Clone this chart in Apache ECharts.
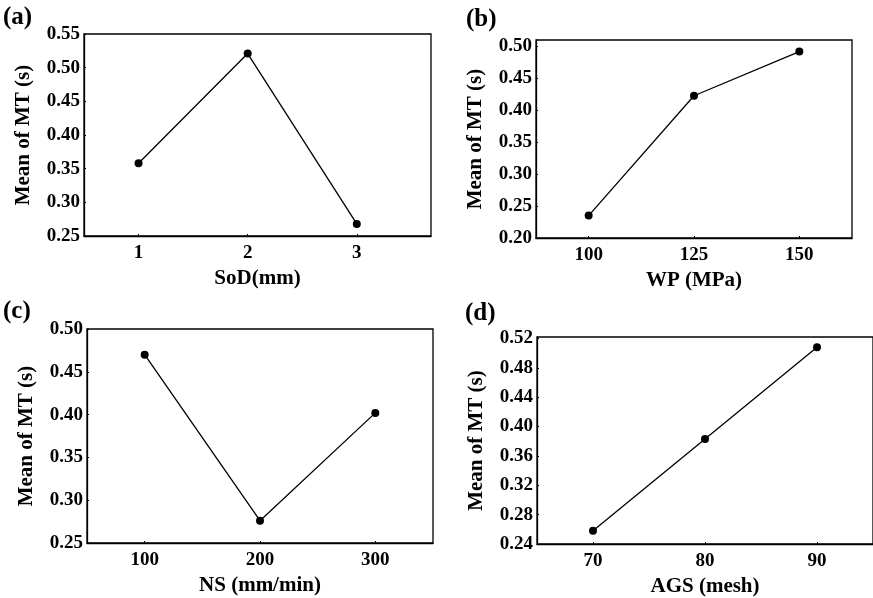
<!DOCTYPE html>
<html>
<head>
<meta charset="utf-8">
<script src="https://cdn.jsdelivr.net/npm/echarts@6/dist/echarts.min.js"></script>
<style>
  html, body { margin: 0; padding: 0; background: #fff; }
  #main { width: 873px; height: 598px; }
</style>
</head>
<body>
<div id="main"></div>
<script>
// main effect values
var sodX = [1, 2, 3];
var sodY = [0.358, 0.521, 0.268];
var wpX = [100, 125, 150];
var wpY = [0.235, 0.422, 0.491];
var nsX = [100, 200, 300];
var nsY = [0.470, 0.276, 0.402];
var agsX = [70, 80, 90];
var agsY = [0.258, 0.383, 0.508];

// tick values
var yTicksA = [0.25, 0.30, 0.35, 0.40, 0.45, 0.50, 0.55];
var yTicksB = [0.20, 0.25, 0.30, 0.35, 0.40, 0.45, 0.50];
var yTicksC = [0.25, 0.30, 0.35, 0.40, 0.45, 0.50];
var yTicksD = [0.24, 0.28, 0.32, 0.36, 0.40, 0.44, 0.48, 0.52];

var panelLabels = ['(a)', '(b)', '(c)', '(d)'];
var xNames = ['SoD(mm)', 'WP (MPa)', 'NS (mm/min)', 'AGS (mesh)'];
var yName = 'Mean of MT (s)';

var FONT = '"Liberation Serif", "Times New Roman", serif';

var myChart = echarts.init(document.getElementById('main'));

function pairs(xs, ys) {
    return xs.map(function (x, i) { return [x, ys[i]]; });
}

function xAxisOf(idx, min, max, ticks) {
    return {
        type: 'value',
        gridIndex: idx,
        min: min,
        max: max,
        name: xNames[idx],
        nameLocation: 'middle',
        nameGap: 32,
        nameTextStyle: { color: '#000', fontFamily: FONT, fontWeight: 'bold', fontSize: 21 },
        axisLine: { show: true, lineStyle: { color: '#000', width: 1.3 } },
        axisTick: { show: true, inside: true, length: 2, customValues: ticks, lineStyle: { color: '#000' } },
        axisLabel: { customValues: ticks, color: '#000', fontFamily: FONT, fontWeight: 'bold', fontSize: 19, margin: 8 },
        splitLine: { show: false }
    };
}

function yAxisOf(idx, min, max, ticks) {
    return {
        type: 'value',
        gridIndex: idx,
        min: min,
        max: max,
        name: yName,
        nameLocation: 'middle',
        nameGap: 50,
        nameTextStyle: { color: '#000', fontFamily: FONT, fontWeight: 'bold', fontSize: 21 },
        axisLine: { show: true, lineStyle: { color: '#000', width: 1.3 } },
        axisTick: { show: true, inside: true, length: 2, customValues: ticks, lineStyle: { color: '#000' } },
        axisLabel: {
            customValues: ticks,
            color: '#000', fontFamily: FONT, fontWeight: 'bold', fontSize: 19, margin: 4,
            formatter: function (v) { return v.toFixed(2); }
        },
        splitLine: { show: false }
    };
}

function seriesOf(idx, data) {
    return {
        type: 'line',
        xAxisIndex: idx,
        yAxisIndex: idx,
        data: data,
        symbol: 'circle',
        symbolSize: 8,
        silent: true,
        animation: false,
        lineStyle: { color: '#000', width: 1.3 },
        itemStyle: { color: '#000' }
    };
}

var gridBase = { show: true, borderColor: '#000', borderWidth: 1.3, backgroundColor: 'transparent' };

var option = {
    animation: false,
    title: [
        { text: panelLabels[0], left: 3, top: 5 },
        { text: panelLabels[1], left: 466, top: 7 },
        { text: panelLabels[2], left: 3, top: 299 },
        { text: panelLabels[3], left: 465, top: 301 }
    ].map(function (t) {
        t.padding = 0;
        t.textStyle = { color: '#000', fontFamily: FONT, fontWeight: 'bold', fontSize: 25 };
        return t;
    }),
    grid: [
        Object.assign({ left: 84, top: 34, width: 347, height: 202 }, gridBase),
        Object.assign({ left: 536, top: 40, width: 316, height: 198 }, gridBase),
        Object.assign({ left: 87, top: 329, width: 346, height: 214 }, gridBase),
        Object.assign({ left: 537, top: 337, width: 339, height: 208 }, gridBase)
    ],
    xAxis: [
        xAxisOf(0, 0.5, 3.68, sodX),
        xAxisOf(1, 87.5, 162.5, wpX),
        xAxisOf(2, 50, 350, nsX),
        xAxisOf(3, 65, 95, agsX)
    ],
    yAxis: [
        yAxisOf(0, 0.25, 0.55, yTicksA),
        yAxisOf(1, 0.20, 0.509, yTicksB),
        yAxisOf(2, 0.25, 0.50, yTicksC),
        yAxisOf(3, 0.24, 0.522, yTicksD)
    ],
    series: [
        seriesOf(0, pairs(sodX, sodY)),
        seriesOf(1, pairs(wpX, wpY)),
        seriesOf(2, pairs(nsX, nsY)),
        seriesOf(3, pairs(agsX, agsY))
    ]
};

myChart.setOption(option);
</script>
</body>
</html>
